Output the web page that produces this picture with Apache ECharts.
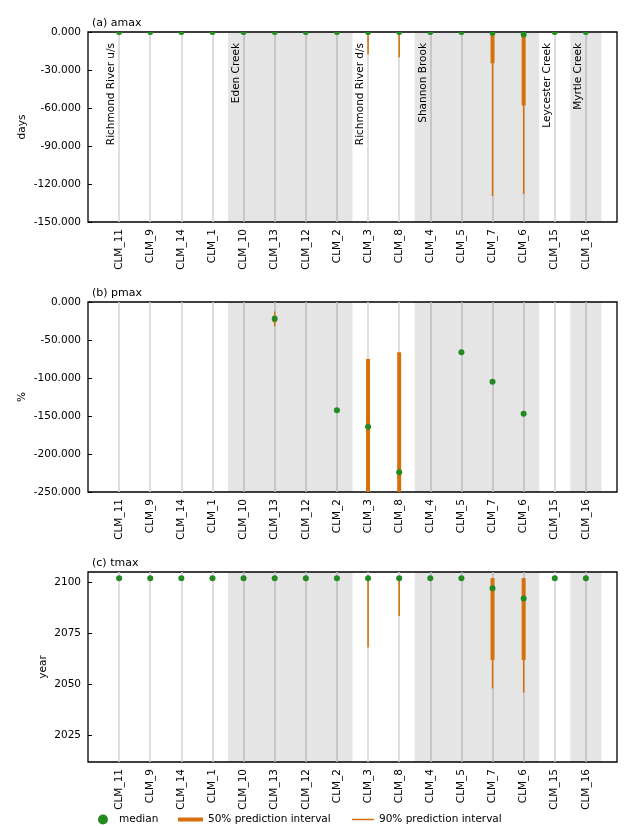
<!DOCTYPE html>
<html><head><meta charset="utf-8">
<script src="https://cdn.jsdelivr.net/npm/echarts@6/dist/echarts.min.js"></script>
<style>html,body{margin:0;padding:0;background:#fff}#c{width:634px;height:826px}</style>
</head><body><div id="c"></div>
<script>
const cats = ['CLM_11','CLM_9','CLM_14','CLM_1','CLM_10','CLM_13','CLM_12','CLM_2','CLM_3','CLM_8','CLM_4','CLM_5','CLM_7','CLM_6','CLM_15','CLM_16'];
const siteNames = ['Richmond River u/s','Eden Creek','Richmond River d/s','Shannon Brook','Leycester Creek','Myrtle Creek'];
const siteSizes = [4,4,2,4,1,1];

// (a) amax, days
const amaxMedian = [0,0,0,0,0,0,0,0,0,0,0,0,-0.5,-2,0,0];
const amax50Low  = [null,null,null,null,null,null,null,null,null,null,null,null,-24.7,-58,null,null];
const amax50High = [null,null,null,null,null,null,null,null,null,null,null,null,0,0,null,null];
const amax90Low  = [null,null,null,null,null,null,null,null,-17.5,-20,null,null,-129.5,-128,null,null];
const amax90High = [null,null,null,null,null,null,null,null,0,0,null,null,0,0,null,null];

// (b) pmax, %
const pmaxMedian = [null,null,null,null,null,-22,null,-142.5,-164,-224,null,-66,-105,-147,null,null];
const pmax50Low  = [null,null,null,null,null,-26.5,null,null,-300,-300,null,null,null,null,null,null];
const pmax50High = [null,null,null,null,null,-18,null,null,-75,-66,null,null,null,null,null,null];
const pmax90Low  = [null,null,null,null,null,-32,null,null,null,null,null,null,null,null,null,null];
const pmax90High = [null,null,null,null,null,-12.5,null,null,null,null,null,null,null,null,null,null];

// (c) tmax, year
const tmaxMedian = [2102,2102,2102,2102,2102,2102,2102,2102,2102,2102,2102,2102,2097,2092,2102,2102];
const tmax50Low  = [null,null,null,null,null,null,null,null,null,null,null,null,2062,2062,null,null];
const tmax50High = [null,null,null,null,null,null,null,null,null,null,null,null,2102,2102,null,null];
const tmax90Low  = [null,null,null,null,null,null,null,null,2068,2083.5,null,null,2048,2046,null,null];
const tmax90High = [null,null,null,null,null,null,null,null,2102,2102,null,null,2102,2102,null,null];

const panels = [
  {title:'(a) amax', yName:'days', min:-150, max:0, interval:30, fmt:v=>v.toFixed(3), med:amaxMedian, lo50:amax50Low, hi50:amax50High, lo90:amax90Low, hi90:amax90High, nameGap:60},
  {title:'(b) pmax', yName:'%', min:-250, max:0, interval:50, fmt:v=>v.toFixed(3), med:pmaxMedian, lo50:pmax50Low, hi50:pmax50High, lo90:pmax90Low, hi90:pmax90High, nameGap:60},
  {title:'(c) tmax', yName:'year', min:2012, max:2105, custom:[2025,2050,2075,2100], fmt:v=>String(v), med:tmaxMedian, lo50:tmax50Low, hi50:tmax50High, lo90:tmax90Low, hi90:tmax90High, nameGap:39}
];

const GREEN = '#228b22', ORANGE = '#d5700a';
const FONT = 'DejaVu Sans';
const tops = [32, 302, 572];
const H = 190;

// site bands
const bandData = [];
const siteLabelData = [];
let pos = 1;
siteSizes.forEach((s, i) => {
  bandData.push([pos - 0.5, pos + s - 0.5, i % 2]);
  siteLabelData.push([pos, siteNames[i]]);
  pos += s;
});

function clipRect(cs) {
  return {type:'rect', shape:{x:cs.x, y:cs.y, width:cs.width, height:cs.height}};
}

function intervalRender(width) {
  return function (params, api) {
    const lo = api.value(1), hi = api.value(2);
    if (isNaN(lo) || isNaN(hi)) return;
    const x = api.value(0);
    const p1 = api.coord([x, hi]), p2 = api.coord([x, lo]);
    return {type:'group', clipPath: clipRect(params.coordSys), children:[
      {type:'line', shape:{x1:p1[0], y1:p1[1], x2:p2[0], y2:p2[1]},
      style:{stroke: api.visual('color'), lineWidth: width, lineCap:'butt'}}]};
  };
}

const grid = [], xAxis = [], yAxis = [], series = [], title = [];
panels.forEach((p, k) => {
  grid.push({left:88, right:17, top:tops[k], height:H, show:true, borderColor:'#000', borderWidth:1.3, backgroundColor:'transparent'});
  title.push({text:p.title, left:87, top:tops[k]-19, textStyle:{fontFamily:FONT, fontSize:11, fontWeight:'normal', color:'#000'}});
  xAxis.push({type:'value', gridIndex:k, min:0, max:17, interval:1,
    axisLine:{show:false}, axisTick:{show:false},
    splitLine:{show:true, showMinLine:false, showMaxLine:false, lineStyle:{color:'#d3d3d3', width:1.5}},
    axisLabel:{rotate:90, margin:7, fontFamily:FONT, fontSize:10.5, color:'#000',
      formatter: v => cats[v-1] || ''}});
  const ya = {type:'value', gridIndex:k, min:p.min, max:p.max,
    name:p.yName, nameLocation:'middle', nameRotate:90, nameGap:p.nameGap, nameMoveOverlap:false,
    nameTextStyle:{fontFamily:FONT, fontSize:10.5, color:'#000'},
    axisLine:{show:false}, splitLine:{show:false},
    axisTick:{show:true, inside:true, length:4, lineStyle:{color:'#000', width:1}},
    axisLabel:{fontFamily:FONT, fontSize:10.5, color:'#000', margin:7, formatter:p.fmt}};
  if (p.interval) ya.interval = p.interval;
  if (p.custom) { ya.axisLabel.customValues = p.custom; ya.axisTick.customValues = p.custom; }
  yAxis.push(ya);

  // bands
  series.push({type:'custom', xAxisIndex:k, yAxisIndex:k, silent:true, clip:true, z:1,
    data: bandData,
    renderItem: (params, api) => {
      if (!api.value(2)) return;
      const cs = params.coordSys;
      const x1 = api.coord([api.value(0), p.max])[0];
      const x2 = api.coord([api.value(1), p.max])[0];
      return {type:'rect', shape:{x:x1, y:cs.y, width:x2-x1, height:cs.height},
        style:{fill:'rgba(0,0,0,0.1)'}};
    }});
  const mk = arr => arr.map((v, i) => [i+1, v]);
  const mk2 = (lo, hi) => lo.map((v, i) => [i+1, v, hi[i]]);
  series.push({type:'custom', name:'90% prediction interval', xAxisIndex:k, yAxisIndex:k, clip:true, z:2,
    itemStyle:{color:ORANGE}, encode:{x:0, y:[1,2]}, data: mk2(p.lo90, p.hi90), renderItem: intervalRender(1.5)});
  series.push({type:'custom', name:'50% prediction interval', xAxisIndex:k, yAxisIndex:k, clip:true, z:3,
    itemStyle:{color:ORANGE}, encode:{x:0, y:[1,2]}, data: mk2(p.lo50, p.hi50), renderItem: intervalRender(4)});
  series.push({type:'custom', name:'median', xAxisIndex:k, yAxisIndex:k, clip:true, z:4,
    itemStyle:{color:GREEN}, encode:{x:0, y:1}, data: mk(p.med),
    renderItem: (params, api) => {
      const v = api.value(1);
      if (isNaN(v)) return;
      const c = api.coord([api.value(0), v]);
      return {type:'group', clipPath: clipRect(params.coordSys), children:[
        {type:'circle', shape:{cx:c[0], cy:c[1], r:3}, style:{fill:api.visual('color')}}]};
    }});
  if (k === 0) {
    series.push({type:'custom', xAxisIndex:k, yAxisIndex:k, silent:true, z:5,
      data: siteLabelData,
      renderItem: (params, api) => {
        const cs = params.coordSys;
        const x = api.coord([api.value(0) - 0.24, p.max])[0];
        return {type:'text', x:x, y:cs.y + 11, rotation:Math.PI/2,
          style:{text: siteLabelData[params.dataIndex][1], align:'right', verticalAlign:'middle',
            fontFamily:FONT, fontSize:10.5, fill:'#000'}};
      }});
  }
});

const legendText = {fontFamily:FONT, fontSize:10.5, color:'#000'};
const option = {
  animation:false,
  title, grid, xAxis, yAxis, series,
  legend:[
    {data:[{name:'median', icon:'circle'}], left:93, top:809, itemWidth:10, itemHeight:10, selectedMode:false,
      textStyle:Object.assign({padding:[0,0,0,6]}, legendText)},
    {data:[{name:'50% prediction interval', icon:'rect'}], left:173, top:809, itemWidth:25, itemHeight:4, selectedMode:false, textStyle:legendText},
    {data:[{name:'90% prediction interval', icon:'rect'}], left:347, top:809, itemWidth:22, itemHeight:1.5, selectedMode:false, textStyle:legendText}
  ]
};
const chart = echarts.init(document.getElementById('c'), null, {renderer:'canvas'});
chart.setOption(option);
</script>
</body></html>
